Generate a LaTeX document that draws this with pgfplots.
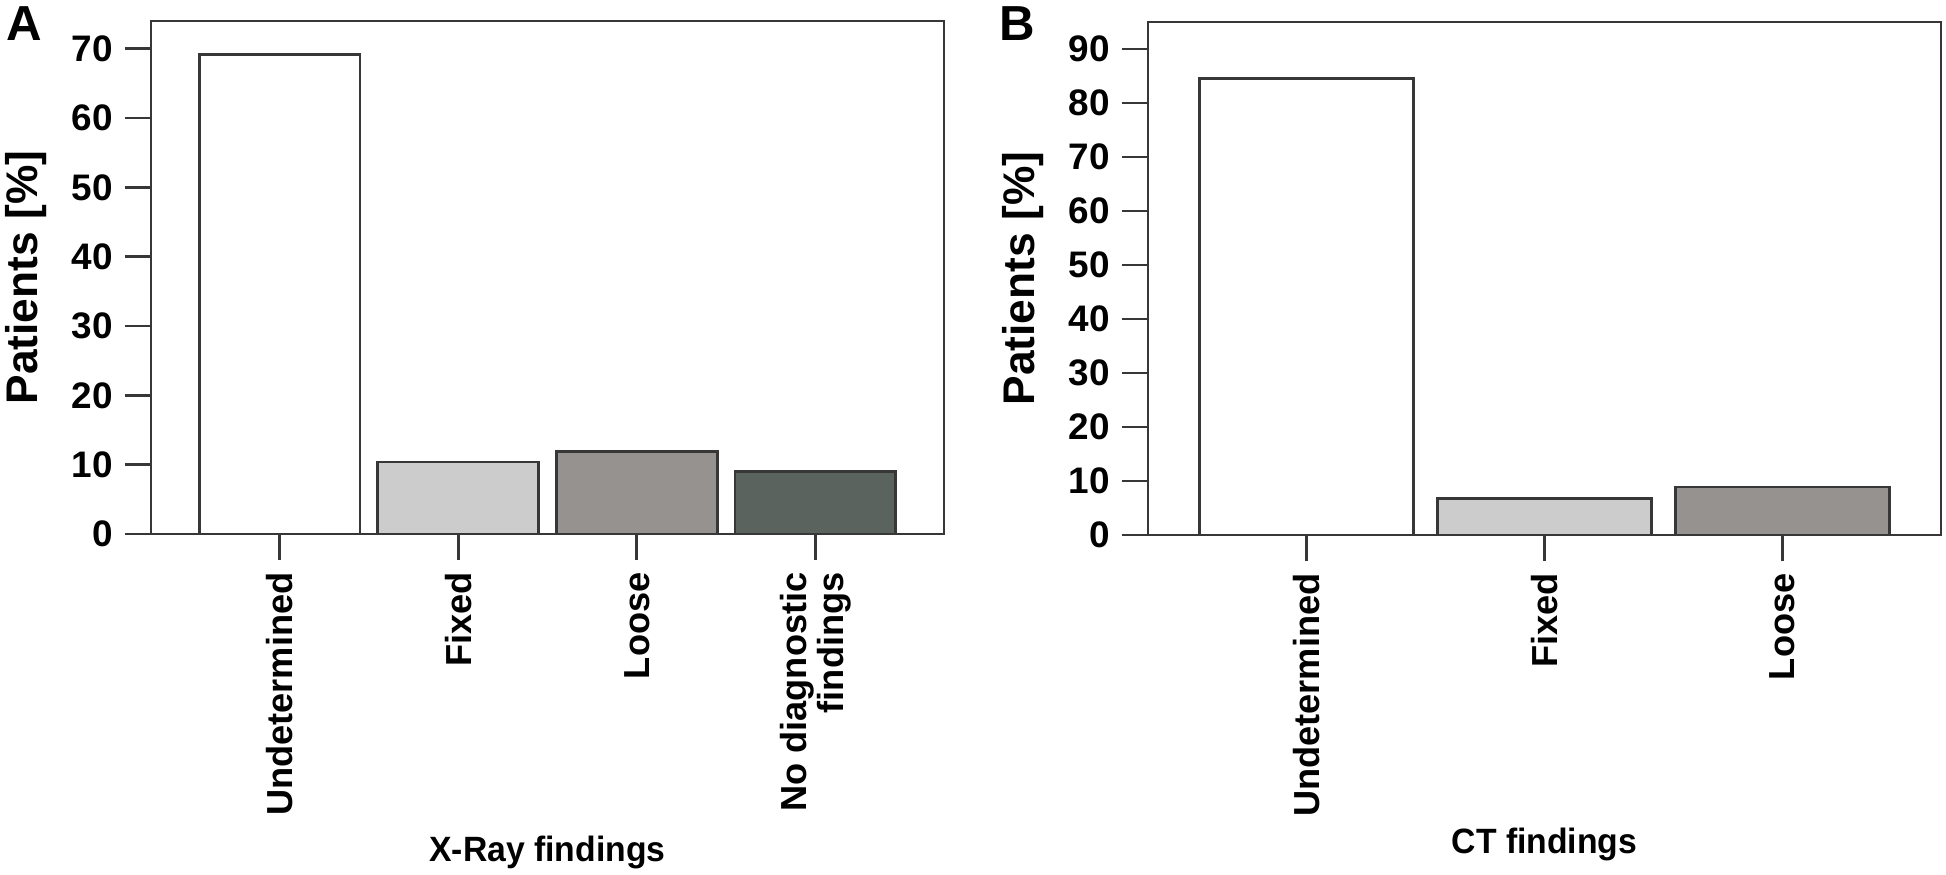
\documentclass[border=0pt]{standalone}
\usepackage{pgfplots}
\pgfplotsset{compat=1.18}
\usepackage{fontspec}
\setmainfont{Liberation Sans}
\definecolor{fixedc}{RGB}{204,204,204}
\definecolor{loosec}{RGB}{150,146,144}
\definecolor{nodiagc}{RGB}{91,99,94}
\definecolor{framec}{RGB}{55,55,55}

\pgfplotsset{
  panel/.style={
    scale only axis, width=79.3mm, height=51.3mm,
    ymin=0, anchor=south west,
    axis line style={framec, line width=0.8pt},
    tick style={framec, line width=0.8pt},
    tick align=outside, major tick length=2.6mm,
    xtick pos=bottom, ytick pos=left,
    ybar, bar shift=0pt, bar width=0.9,
    /pgf/number format/assume math mode=true,
    yticklabel style={font=\bfseries\fontsize{10.5}{12}\selectfont},
    xticklabel style={font=\bfseries\fontsize{10.3}{10.6}\selectfont, rotate=90, anchor=east, align=right},
    ylabel style={at={(axis description cs:-0.157,0.5)}, anchor=center, font=\bfseries\fontsize{12.6}{14}\selectfont},
  }
}

\begin{document}
\begin{tikzpicture}
\path[use as bounding box] (0,0) rectangle (194.6mm,-87.5mm);

\node[anchor=north west, inner sep=0pt, font=\bfseries\fontsize{14}{16}\selectfont] at (0.6mm,-0.6mm) {A};
\node[anchor=north west, inner sep=0pt, font=\bfseries\fontsize{14}{16}\selectfont] at (99.9mm,-0.6mm) {B};

\begin{axis}[panel, at={(15.1mm,-53.4mm)},
  xmin=-0.72, xmax=3.72, ymax=74,
  ytick={0,10,...,70},
  xtick={0,1,2,3},
  xticklabels={Undetermined,Fixed,Loose,{No diagnostic\\findings}},
  ylabel={Patients [\%]},
  xlabel={\scalebox{0.96}[1]{X-Ray findings}},
  xlabel style={at={(axis description cs:0.5,-0.639)}, anchor=base, font=\bfseries\fontsize{10}{12}\selectfont},
]
\addplot[fill=white, draw=framec, line width=0.8pt] coordinates {(0,69.2)};
\addplot[fill=fixedc, draw=framec, line width=0.8pt] coordinates {(1,10.4)};
\addplot[fill=loosec, draw=framec, line width=0.8pt] coordinates {(2,11.9)};
\addplot[fill=nodiagc, draw=framec, line width=0.8pt] coordinates {(3,9.0)};
\end{axis}

\begin{axis}[panel, at={(114.8mm,-53.5mm)},
  xmin=-0.665, xmax=2.665, ymax=95,
  ytick={0,10,...,90},
  xtick={0,1,2},
  xticklabels={Undetermined,Fixed,Loose},
  ylabel={Patients [\%]},
  xlabel={\scalebox{0.96}[1]{CT findings}},
  xlabel style={at={(axis description cs:0.5,-0.620)}, anchor=base, font=\bfseries\fontsize{10}{12}\selectfont},
]
\addplot[fill=white, draw=framec, line width=0.8pt] coordinates {(0,84.6)};
\addplot[fill=fixedc, draw=framec, line width=0.8pt] coordinates {(1,6.7)};
\addplot[fill=loosec, draw=framec, line width=0.8pt] coordinates {(2,8.9)};
\end{axis}
\end{tikzpicture}
\end{document}
